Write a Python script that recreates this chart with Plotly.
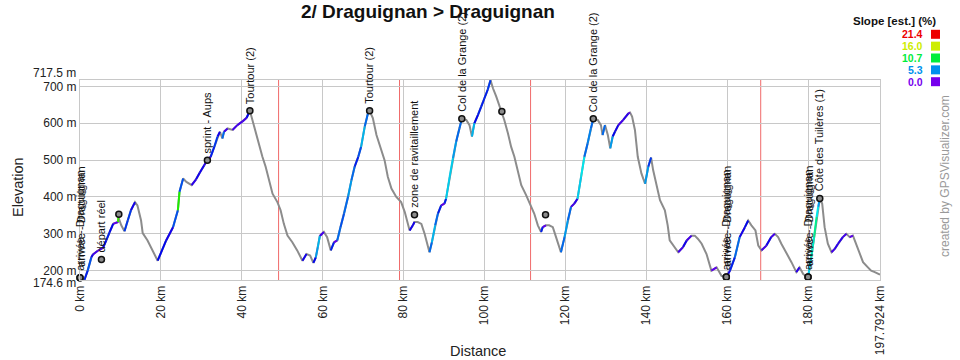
import colorsys
import plotly.graph_objects as go

# ---------------- data ----------------
dist_km = [0.0, 1.1, 1.9, 2.8, 3.2, 4.4, 5.7, 6.5, 7.3, 8.2, 9.4, 9.5, 10.2, 11.0, 11.8, 12.6,
           13.6, 14.2, 15.1, 15.5, 16.7, 17.9, 19.2, 21.3, 23.0, 24.2, 24.6, 25.5, 26.3, 27.6,
           28.7, 29.6, 30.7, 31.5, 32.3, 33.2, 34.0, 34.6, 35.2, 35.6, 36.5, 37.7, 38.9, 40.2,
           41.2, 42.0, 42.6, 43.5, 44.3, 45.1, 45.9, 46.7, 47.6, 48.8, 49.6, 50.4, 51.3, 52.5,
           53.7, 55.0, 56.0, 56.9, 57.7, 58.3, 58.8, 59.3, 60.3, 61.1, 62.0, 62.8, 63.6, 64.4,
           65.3, 66.3, 67.1, 67.9, 68.8, 69.5, 70.4, 71.2, 71.6, 72.4, 73.3, 74.5, 75.3, 76.1,
           77.0, 78.2, 79.4, 80.3, 81.1, 81.5, 82.3, 82.7, 83.5, 84.4, 85.2, 86.4, 87.0, 87.8,
           88.5, 89.3, 90.1, 90.5, 91.4, 92.2, 93.0, 93.8, 94.4, 95.5, 96.3, 96.9, 97.5, 98.4,
           99.2, 100.0, 100.8, 101.5, 102.1, 102.9, 103.5, 104.3, 104.9, 105.8, 106.6, 107.4,
           108.2, 109.1, 110.3, 111.5, 112.3, 113.2, 114.0, 114.4, 115.2, 116.0, 116.9, 117.7,
           118.9, 119.8, 120.6, 121.4, 122.2, 123.0, 123.9, 124.7, 125.5, 126.3, 126.9, 128.0,
           128.8, 129.2, 129.8, 130.5, 131.1, 131.7, 132.3, 133.1, 134.3, 135.6, 136.0, 136.5,
           137.2, 137.9, 138.8, 139.7, 140.5, 141.2, 141.7, 142.6, 143.4, 144.6, 145.3, 145.8,
           147.1, 147.9, 149.1, 150.0, 151.2, 152.0, 152.8, 153.7, 154.9, 156.1, 157.4, 158.6,
           159.8, 160.7, 161.9, 163.1, 164.4, 165.2, 166.0, 167.0, 167.7, 168.5, 169.7, 170.9,
           171.8, 172.6, 173.4, 174.6, 175.9, 177.1, 177.9, 178.8, 180.0, 180.8, 181.5, 182.1,
           182.5, 182.9, 183.5, 184.1, 184.9, 185.8, 186.6, 187.4, 188.6, 189.5, 190.3, 191.1,
           191.9, 192.8, 193.6, 194.8, 195.6, 196.5, 197.7924]
elev_m = [181, 175, 200, 236, 244, 254, 262, 282, 304, 327, 332, 345, 323, 307, 336, 364,
          386, 377, 336, 302, 282, 255, 227, 282, 318, 364, 414, 450, 441, 432,
          448, 466, 486, 500, 509, 536, 564, 577, 559, 577, 586, 582, 595, 605,
          615, 634, 609, 573, 545, 509, 482, 445, 409, 386, 364, 327, 295, 277,
          255, 227, 245, 241, 221, 236, 264, 294, 305, 291, 255, 277, 282, 318,
          355, 402, 445, 482, 509, 536, 591, 627, 634, 614, 568, 527, 500, 455,
          423, 400, 386, 359, 327, 309, 323, 332, 332, 327, 300, 250, 277, 323,
          355, 377, 382, 395, 455, 505, 550, 586, 612, 609, 595, 564, 600, 623,
          645, 668, 691, 717, 695, 673, 655, 632, 609, 573, 536, 509,
          473, 432, 405, 377, 355, 323, 305, 318, 323, 323, 318, 291,
          250, 291, 336, 373, 382, 395, 455, 509, 545, 586, 612, 609,
          595, 568, 595, 568, 532, 564, 578, 595, 609, 627, 629, 618,
          582, 509, 464, 436, 482, 507, 473, 427, 391, 364, 323, 282,
          264, 250, 264, 282, 295, 295, 286, 273, 245, 200, 209, 186,
          182, 200, 236, 291, 318, 336, 323, 309, 268, 255, 268, 291,
          300, 291, 273, 250, 223, 196, 209, 191, 182, 236, 291, 345,
          373, 395, 382, 318, 273, 250, 259, 273, 291, 300, 291, 295,
          273, 245, 223, 209, 200, 196, 189]

# waypoints
wp_km = [0.0, 0.0, 5.3, 9.6, 31.5, 42.0, 71.6, 82.7, 94.4, 104.3, 115.1, 126.9,
         159.8, 159.8, 180.0, 180.0, 182.9]
wp_elev = [181, 181, 230, 353, 500, 634, 634, 352, 612, 632, 352, 612,
           183, 183, 183, 183, 396]
wp_names = ["arrivée - Draguignan", "arrivée - Draguignan", "départ réel", "",
            "sprint - Aups", "Tourtour (2)", "Tourtour (2)", "zone de ravitaillement",
            "Col de la Grange (2)", "", "", "Col de la Grange (2)",
            "arrivée - Draguignan", "arrivée - Draguignan", "arrivée - Draguignan",
            "arrivée - Draguignan", "Côte des Tuilères (1)"]

# segment markers (red lines)
split_km = [49.1, 79.0, 111.4, 168.3]

# axis ticks
x_tickvals = [0, 20, 40, 60, 80, 100, 120, 140, 160, 180, 197.7924]
x_ticktext = ["0 km", "20 km", "40 km", "60 km", "80 km", "100 km", "120 km",
              "140 km", "160 km", "180 km", "197.7924 km"]
y_tickvals = [200, 300, 400, 500, 600, 700]
y_ticktext = ["200 m", "300 m", "400 m", "500 m", "600 m", "700 m"]
y_min, y_max = 174.6, 717.5

# slope legend
legend_vals = [21.4, 16.0, 10.7, 5.3, 0.0]

FONT = "Arial, Liberation Sans, sans-serif"
W, H = 960, 360
ML, MR, MT, MB = 80, 80, 80, 80


def px(x):
    return (x - ML) / (W - ML - MR)


def py(y):
    return (H - MB - y) / (H - MT - MB)


def slope_color(s):
    s = min(max(s, 0.0), 21.4)
    hue = (270.0 - 270.0 * s / 21.4) / 360.0
    r, g, b = colorsys.hsv_to_rgb(hue, 1.0, 0.93)
    return "#%02x%02x%02x" % (int(r * 255), int(g * 255), int(b * 255))


fig = go.Figure()

# base (grey = descending)
fig.add_trace(go.Scatter(x=dist_km, y=elev_m, mode="lines",
                         line=dict(color="#8c8c8c", width=2), hoverinfo="skip",
                         showlegend=False))

# climbing segments coloured by slope
groups = {}
for i in range(len(dist_km) - 1):
    dd = dist_km[i + 1] - dist_km[i]
    de = elev_m[i + 1] - elev_m[i]
    s = de / (dd * 10.0)
    if s <= 0:
        continue
    c = slope_color(round(s * 2) / 2)
    xs, ys = groups.setdefault(c, ([], []))
    xs += [dist_km[i], dist_km[i + 1], None]
    ys += [elev_m[i], elev_m[i + 1], None]
for c, (xs, ys) in groups.items():
    fig.add_trace(go.Scatter(x=xs, y=ys, mode="lines", line=dict(color=c, width=2),
                             hoverinfo="skip", showlegend=False))

# waypoint markers
fig.add_trace(go.Scatter(x=wp_km, y=wp_elev, mode="markers",
                         marker=dict(symbol="circle", size=6, color="#8c8c8c",
                                     line=dict(color="#111111", width=1.5)),
                         hoverinfo="skip", showlegend=False, cliponaxis=False))

annotations = []
seen = {}
for k, e, n in zip(wp_km, wp_elev, wp_names):
    if not n:
        continue
    key = (k, n)
    dup = seen.get(key, 0)
    seen[key] = dup + 1
    annotations.append(dict(x=k, y=e, xref="x", yref="y", text=n, textangle=-90,
                            showarrow=False, xanchor="center", yanchor="bottom",
                            yshift=6 + 4 * dup, xshift=dup, borderpad=0,
                            font=dict(family=FONT, size=11, color="#111111")))

# end-of-range y labels (shifted to avoid overlapping neighbours)
annotations.append(dict(x=0, y=y_max, xref="paper", yref="y", text="%.1f m" % y_max,
                        showarrow=False, xanchor="right", yanchor="middle",
                        xshift=-3, yshift=7, borderpad=0,
                        font=dict(family=FONT, size=12, color="#222222")))
annotations.append(dict(x=0, y=y_min, xref="paper", yref="y", text="%.1f m" % y_min,
                        showarrow=False, xanchor="right", yanchor="middle",
                        xshift=-3, yshift=-3, borderpad=0,
                        font=dict(family=FONT, size=12, color="#222222")))

# titles
annotations.append(dict(x=px(428), y=py(12), xref="paper", yref="paper",
                        text="<b>2/ Draguignan > Draguignan</b>", showarrow=False,
                        xanchor="center", yanchor="middle",
                        font=dict(family=FONT, size=19, color="#111111")))
annotations.append(dict(x=px(18), y=py(187), xref="paper", yref="paper",
                        text="Elevation", textangle=-90, showarrow=False,
                        xanchor="center", yanchor="middle",
                        font=dict(family=FONT, size=14.5, color="#222222")))
annotations.append(dict(x=px(478), y=py(351), xref="paper", yref="paper",
                        text="Distance", showarrow=False,
                        xanchor="center", yanchor="middle", borderpad=0,
                        font=dict(family=FONT, size=14.5, color="#222222")))
annotations.append(dict(x=px(945), y=py(176), xref="paper", yref="paper",
                        text="created by GPSVisualizer.com", textangle=-90,
                        showarrow=False, xanchor="center", yanchor="middle",
                        font=dict(family=FONT, size=12, color="#999999")))

# slope legend
annotations.append(dict(x=px(894), y=py(21), xref="paper", yref="paper",
                        text="<b>Slope [est.] (%)</b>", showarrow=False,
                        xanchor="center", yanchor="middle", borderpad=0,
                        font=dict(family=FONT, size=11.5, color="#111111")))
shapes = []
for i, v in enumerate(legend_vals):
    yc = 34.3 + i * 11.85
    col = slope_color(v)
    annotations.append(dict(x=px(924), y=py(yc), xref="paper", yref="paper",
                            text="<b>%.1f</b>" % v, showarrow=False,
                            xanchor="right", yanchor="middle", borderpad=0,
                            font=dict(family=FONT, size=10.5, color=col)))
    shapes.append(dict(type="rect", xref="paper", yref="paper",
                       x0=px(931), x1=px(940), y0=py(yc + 4.5), y1=py(yc - 4.5),
                       fillcolor=col, line=dict(width=0)))

for k in split_km:
    shapes.append(dict(type="line", xref="x", yref="paper", x0=k, x1=k, y0=0, y1=1,
                       line=dict(color="#f06a6a", width=1), layer="below"))

fig.update_layout(
    width=W, height=H,
    margin=dict(l=ML, r=MR, t=MT, b=MB, autoexpand=False),
    paper_bgcolor="white", plot_bgcolor="white",
    font=dict(family=FONT, size=12, color="#222222"),
    annotations=annotations, shapes=shapes,
    xaxis=dict(range=[0, dist_km[-1]], tickvals=x_tickvals, ticktext=x_ticktext,
               tickangle=-90, showgrid=True, gridcolor="#c8c8c8", gridwidth=1,
               showline=True, linecolor="#c8c8c8", mirror=True, zeroline=False,
               automargin=False,
               ticks="", tickfont=dict(family=FONT, size=12, color="#222222")),
    yaxis=dict(range=[y_min, y_max], tickvals=y_tickvals, ticktext=y_ticktext,
               showgrid=True, gridcolor="#c8c8c8", gridwidth=1,
               showline=True, linecolor="#c8c8c8", mirror=True, zeroline=False,
               automargin=False,
               ticks="", tickfont=dict(family=FONT, size=12, color="#222222")),
)

fig.write_html("out.html", config={"displayModeBar": False},
               post_script="document.body.style.margin='0';")
